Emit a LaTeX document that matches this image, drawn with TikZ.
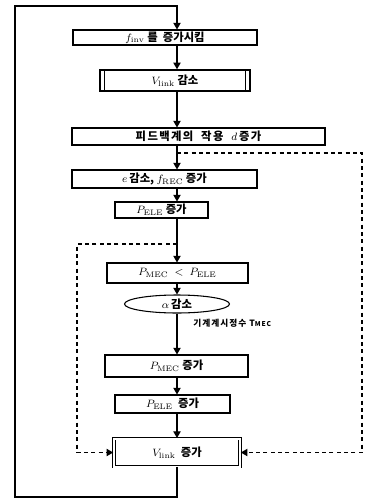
\documentclass[tikz,border=0pt]{standalone}
\usepackage{fontspec}
\newfontfamily\kr{Noto Sans CJK KR}
\newfontfamily\krw{Noto Sans CJK KR}[LetterSpace=12]
\usetikzlibrary{arrows.meta,shapes.geometric}
\tikzset{
  box/.style={draw, line width=0.8pt, inner sep=0pt, font=\kr\bfseries\fontsize{8.5}{9}\selectfont},
  oval/.style={draw, ellipse, line width=0.8pt, inner sep=0pt, font=\kr\bfseries\fontsize{8.5}{9}\selectfont},
  arr/.style={line width=0.8pt, -{Triangle[length=5pt,width=5.5pt]}},
  ln/.style={line width=0.8pt},
  dl/.style={line width=0.8pt, dash pattern=on 3pt off 2.5pt},
  darr/.style={dl, -{Triangle[length=5pt,width=5.5pt]}},
  lbl/.style={font=\krw\bfseries\fontsize{6.5}{7}\selectfont, inner sep=0pt, anchor=west}
}
\begin{document}
\begin{tikzpicture}[x=0.75pt,y=-0.75pt]
\useasboundingbox (0,0) rectangle (366,500);
\coordinate (ax) at (177,0);
\node[box, minimum width=138pt, minimum height=11.25pt] (b1) at (165,37.5) {$f_{\mathrm{inv}}$ 를 \ 증가시킴};
\node[box, line width=1.1pt, minimum width=112.5pt, minimum height=15.75pt] (b2) at (175,80.5) {$V_{\mathrm{link}}$ 감소};
\draw[ln] ([xshift=4pt]b2.north west) -- ([xshift=4pt]b2.south west);
\draw[ln] ([xshift=-4pt]b2.north east) -- ([xshift=-4pt]b2.south east);
\node[box, font=\krw\bfseries\fontsize{8.5}{9}\selectfont, minimum width=189.75pt, minimum height=12.75pt] (b3) at (198.5,136.5) {피드백계의 \ 작용 \ $d$\,증가};
\node[box, minimum width=138.75pt, minimum height=13.5pt] (b4) at (164.5,179) {$e$\,감소, $f_{\mathrm{REC}}$ 증가};
\node[box, minimum width=69.75pt, minimum height=12pt] (b5) at (161.5,210) {$P_{\mathrm{ELE}}$ 증가};
\node[box, minimum width=105.75pt, minimum height=15pt] (b6) at (177.5,273) {$P_{\mathrm{MEC}} \;<\; P_{\mathrm{ELE}}$};
\node[oval, minimum width=78.75pt, minimum height=13.5pt] (b7) at (177,304) {$\alpha$\,감소};
\node[box, minimum width=107.25pt, minimum height=16.5pt] (b8) at (176.5,366) {$P_{\mathrm{MEC}}$ 증가};
\node[box, minimum width=86.25pt, minimum height=13.5pt] (b9) at (172.5,404) {$P_{\mathrm{ELE}}$ \ 증가};
\node[box, double, double distance=1.5pt, line width=0.7pt, minimum width=95pt, minimum height=21pt] (b10) at (177,452.5) {$V_{\mathrm{link}}$ \ 증가};
\node[lbl] (t) at (193,323) {기계계시정수 T{\fontsize{5}{6}\selectfont MEC}};
% main axis
\draw[arr] (ax |- b1.south) -- (ax |- b2.north);
\draw[arr] (ax |- b2.south) -- (ax |- b3.north);
\draw[arr] (ax |- b3.south) -- (ax |- b4.north);
\draw[arr] (ax |- b4.south) -- (ax |- b5.north);
\draw[arr] (ax |- b5.south) -- (ax |- b6.north);
\draw[arr] (ax |- b6.south) -- (b7.north);
\draw[arr] (b7.south) -- (ax |- b8.north);
\draw[arr] (ax |- b8.south) -- (ax |- b9.north);
\draw[arr] (ax |- b9.south) -- (b10.north);
% outer feedback loop
\coordinate (lb) at (15,497);
\coordinate (lt) at (15,6);
\draw[arr] (b10.south) -- (b10.south |- lb) -- (lb) -- (lt) -- (ax |- lt) -- (ax |- b1.north);
% dashed loops
\coordinate (r1) at (177,153);
\coordinate (r2) at (362,153);
\draw[darr] (r1) -- (r2) -- (r2 |- b10.east) -- (b10.east);
\coordinate (l1) at (177,244);
\coordinate (l2) at (77,244);
\draw[darr] (l1) -- (l2) -- (l2 |- b10.west) -- (b10.west);
\end{tikzpicture}
\end{document}
